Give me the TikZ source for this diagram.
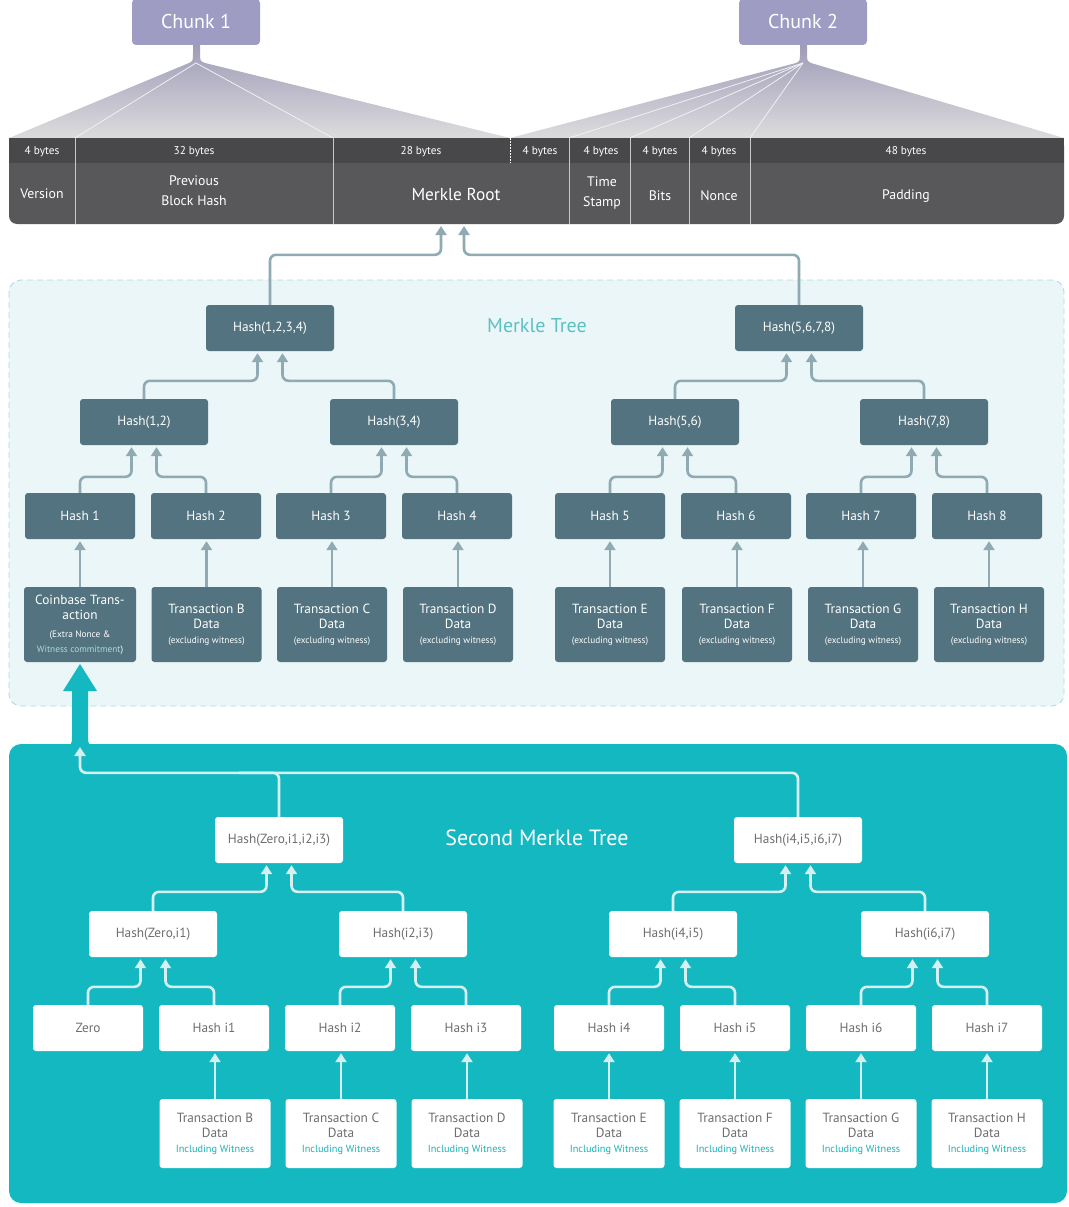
\documentclass[tikz,border=0pt]{standalone}
\usepackage{fontspec}
\setmainfont{PT Sans}
\usetikzlibrary{arrows.meta,calc}
\definecolor{chunkc}{HTML}{9F9CC4}
\definecolor{fantop}{HTML}{9E9BB6}
\definecolor{fanbot}{HTML}{DCDCDE}
\definecolor{hdrtop}{HTML}{48484A}
\definecolor{hdrlow}{HTML}{58585A}
\definecolor{hdrline}{HTML}{C8C8C8}
\definecolor{dnodec}{HTML}{52737F}
\definecolor{connc}{HTML}{8FAAB3}
\definecolor{mtbg}{HTML}{EAF6F7}
\definecolor{mtdash}{HTML}{A9DDE0}
\definecolor{mtlabel}{HTML}{5CC0C5}
\definecolor{tealc}{HTML}{13B8C1}
\definecolor{conn2c}{HTML}{D6F0F1}
\definecolor{wtext}{HTML}{6D6E70}
\definecolor{inclc}{HTML}{19B2B9}
\definecolor{witc}{HTML}{A8DCD6}
\newcommand{\smallex}{\fontsize{9.3}{11}\selectfont}
\newcommand{\smallin}{\fontsize{10.3}{12}\selectfont\color{inclc}}
\begin{document}
\begin{tikzpicture}[x=1pt,y=-1pt,
  dnode/.style={fill=dnodec, rounded corners=3pt, text=white, inner sep=0pt, align=center, font=\fontsize{13.3}{15}\selectfont},
  wnode/.style={fill=white, rounded corners=3pt, text=wtext, inner sep=0pt, align=center, font=\fontsize{13.3}{15}\selectfont},
  hsize/.style={minimum width=128pt, minimum height=46pt},
  lsize/.style={minimum width=110pt, minimum height=46pt},
  tsize/.style={minimum width=110pt, minimum height=75pt},
  t2size/.style={minimum width=111pt, minimum height=69pt},
  conn/.style={draw=connc, line width=2.6pt, rounded corners=6pt, -{Triangle[width=11pt,length=9pt]}, shorten >=2pt},
  conn2/.style={draw=conn2c, line width=2.6pt, rounded corners=6pt, -{Triangle[width=11pt,length=9pt]}, shorten >=2pt},
  hsmall/.style={text=white, font=\fontsize{11.3}{12}\selectfont, inner sep=0pt},
  hbig/.style={text=white, font=\fontsize{13.8}{20}\selectfont, inner sep=0pt, align=center},
  chunkbox/.style={fill=chunkc, rounded corners=4pt, text=white, font=\fontsize{20}{24}\selectfont, minimum width=128pt, minimum height=46pt, inner sep=0pt},
  fanline/.style={draw=white!85!fantop, line width=0.8pt}
]
\useasboundingbox (0,0) rectangle (1068,1207);

% ---------- fans ----------
\shade[top color=fantop, bottom color=fanbot]
  (9,138) -- (189,63) .. controls (193,61) .. (193,52) -- (193,44) -- (200,44) -- (200,52) .. controls (200,61) .. (205,63) -- (510,138) -- cycle;
\shade[top color=fantop, bottom color=fanbot]
  (510,138) -- (796,63) .. controls (800,61) .. (800,52) -- (800,44) -- (807,44) -- (807,52) .. controls (807,61) .. (811,63) -- (1064,138) -- cycle;
\draw[fanline] (196,63) -- (75,138);
\draw[fanline] (196,63) -- (333,138);
\draw[fanline] (803,63) -- (569,138);
\draw[fanline] (803,63) -- (630,138);
\draw[fanline] (803,63) -- (689,138);
\draw[fanline] (803,63) -- (750,138);

\node[chunkbox] (chunk1) at (196,22) {Chunk 1};
\node[chunkbox] (chunk2) at (803,22) {Chunk 2};

% ---------- header bar ----------
\fill[hdrlow, rounded corners=8pt] (9,138) rectangle (1064,224);
\fill[hdrtop] (9,138) rectangle (1064,163);
\foreach \xx in {75,333,569,630,689,750}{
  \draw[hdrline, line width=0.8pt] (\xx,138) -- (\xx,224);
}
\draw[white, line width=0.8pt, dash pattern=on 1.5pt off 1.5pt] (510,138) -- (510,163);

\node[hsmall] (b1) at (42,152) {4 bytes};
\node[hsmall] (b2) at (194,152) {32 bytes};
\node[hsmall] (b3) at (421,152) {28 bytes};
\node[hsmall] (b4) at (540,152) {4 bytes};
\node[hsmall] (b5) at (601,152) {4 bytes};
\node[hsmall] (b6) at (660,152) {4 bytes};
\node[hsmall] (b7) at (719,152) {4 bytes};
\node[hsmall] (b8) at (906,152) {48 bytes};

\node[hbig] (fver) at (42,194) {Version};
\node[hbig] (fprev) at (194,191) {Previous\\Block Hash};
\node[hbig, font=\fontsize{17.3}{20}\selectfont] (mr) at (456,194) {Merkle Root};
\node[hbig] (ftime) at (602,193) {Time\\Stamp};
\node[hbig] (fbits) at (660,196) {Bits};
\node[hbig] (fnonce) at (719,196) {Nonce};
\node[hbig] (fpad) at (906,196) {Padding};
\coordinate (mrb) at (452.5,224);

% ---------- Merkle tree panel ----------
\filldraw[fill=mtbg, draw=mtdash, line width=0.9pt, dash pattern=on 6pt off 4pt, rounded corners=12pt] (9,280) rectangle (1064,706);
\node[text=mtlabel, font=\fontsize{20}{24}\selectfont, inner sep=0pt] (mtl) at (537,326) {Merkle Tree};

\node[dnode,hsize] (h1234) at (270,328) {Hash(1,2,3,4)};
\node[dnode,hsize] (h5678) at (799,328) {Hash(5,6,7,8)};
\node[dnode,hsize] (h12) at (144,422) {Hash(1,2)};
\node[dnode,hsize] (h34) at (394,422) {Hash(3,4)};
\node[dnode,hsize] (h56) at (675,422) {Hash(5,6)};
\node[dnode,hsize] (h78) at (924,422) {Hash(7,8)};
\node[dnode,lsize] (h1) at (80,516) {Hash 1};
\node[dnode,lsize] (h2) at (206,516) {Hash 2};
\node[dnode,lsize] (h3) at (331,516) {Hash 3};
\node[dnode,lsize] (h4) at (457,516) {Hash 4};
\node[dnode,lsize] (h5) at (610,516) {Hash 5};
\node[dnode,lsize] (h6) at (736,516) {Hash 6};
\node[dnode,lsize] (h7) at (861,516) {Hash 7};
\node[dnode,lsize] (h8) at (987,516) {Hash 8};

\node[dnode,tsize,minimum width=112pt] (tcb) at (80,624.5) {Coinbase Trans-\\action\\[3pt]\smallex (Extra Nonce \&\\\smallex\textcolor{witc}{Witness commitment})};
\node[dnode,tsize] (ttb) at (206.5,624.5) {Transaction B\\Data\\\smallex (excluding witness)};
\node[dnode,tsize] (ttc) at (332,624.5) {Transaction C\\Data\\\smallex (excluding witness)};
\node[dnode,tsize] (ttd) at (458,624.5) {Transaction D\\Data\\\smallex (excluding witness)};
\node[dnode,tsize] (tte) at (610,624.5) {Transaction E\\Data\\\smallex (excluding witness)};
\node[dnode,tsize] (ttf) at (737,624.5) {Transaction F\\Data\\\smallex (excluding witness)};
\node[dnode,tsize] (ttg) at (863,624.5) {Transaction G\\Data\\\smallex (excluding witness)};
\node[dnode,tsize] (tth) at (989,624.5) {Transaction H\\Data\\\smallex (excluding witness)};

% connectors tree 1
\draw[conn] (h1234.north) -- ++(0,-50) -| ([xshift=-11.5pt]mrb);
\draw[conn] (h5678.north) -- ++(0,-50) -| ([xshift=11.5pt]mrb);
\foreach \c/\p/\s in {h12/h1234/-12.5, h34/h1234/12.5, h56/h5678/-12.5, h78/h5678/12.5}{
  \draw[conn] (\c.north) -- ++(0,-18) -| ([xshift=\s pt]\p.south);
}
\foreach \c/\p/\s in {h1/h12/-12.5, h2/h12/12.5, h3/h34/-12.5, h4/h34/12.5, h5/h56/-12.5, h6/h56/12.5, h7/h78/-12.5, h8/h78/12.5}{
  \draw[conn] (\c.north) -- ++(0,-16) -| ([xshift=\s pt]\p.south);
}
\foreach \c/\p in {tcb/h1, ttb/h2, ttc/h3, ttd/h4, tte/h5, ttf/h6, ttg/h7, tth/h8}{
  \draw[conn] (\c.north) -- (\c.north |- \p.south);
}

% ---------- Second Merkle tree panel ----------
\fill[tealc, rounded corners=12pt] (9,744) rectangle (1067,1203);
\fill[tealc] (72,691) -- (63,691) -- (80,664) -- (97,691) -- (88,691) -- (88,736) .. controls (88,745) .. (97,745) -- (63,745) .. controls (72,745) .. (72,736) -- cycle;
\coordinate (sb) at (80,745);
\node[text=white, font=\fontsize{22}{26}\selectfont, inner sep=0pt] (sml) at (537,838) {Second Merkle Tree};

\node[wnode,hsize] (hz123) at (279,840) {Hash(Zero,i1,i2,i3)};
\node[wnode,hsize] (hi4567) at (798,840) {Hash(i4,i5,i6,i7)};
\node[wnode,hsize] (hz1) at (153,934) {Hash(Zero,i1)};
\node[wnode,hsize] (hi23) at (403,934) {Hash(i2,i3)};
\node[wnode,hsize] (hi45) at (673,934) {Hash(i4,i5)};
\node[wnode,hsize] (hi67) at (925,934) {Hash(i6,i7)};
\node[wnode,lsize] (zero) at (88,1028) {Zero};
\node[wnode,lsize] (hi1) at (214,1028) {Hash i1};
\node[wnode,lsize] (hi2) at (340,1028) {Hash i2};
\node[wnode,lsize] (hi3) at (466,1028) {Hash i3};
\node[wnode,lsize] (hi4) at (609,1028) {Hash i4};
\node[wnode,lsize] (hi5) at (735,1028) {Hash i5};
\node[wnode,lsize] (hi6) at (861,1028) {Hash i6};
\node[wnode,lsize] (hi7) at (987,1028) {Hash i7};

\node[wnode,t2size] (sb2) at (215,1133.5) {Transaction B\\Data\\\smallin Including Witness};
\node[wnode,t2size] (sc2) at (341,1133.5) {Transaction C\\Data\\\smallin Including Witness};
\node[wnode,t2size] (sd2) at (467,1133.5) {Transaction D\\Data\\\smallin Including Witness};
\node[wnode,t2size] (se2) at (609,1133.5) {Transaction E\\Data\\\smallin Including Witness};
\node[wnode,t2size] (sf2) at (735,1133.5) {Transaction F\\Data\\\smallin Including Witness};
\node[wnode,t2size] (sg2) at (861,1133.5) {Transaction G\\Data\\\smallin Including Witness};
\node[wnode,t2size] (sh2) at (987,1133.5) {Transaction H\\Data\\\smallin Including Witness};

% connectors tree 2
\draw[conn2] (hi4567.north) -- ++(0,-44) -| (sb);
\draw[draw=conn2c, line width=2.6pt, rounded corners=6pt] (hz123.north) -- ++(0,-44) -- ++(-40,0);
\foreach \c/\p/\s in {hz1/hz123/-12.5, hi23/hz123/12.5, hi45/hi4567/-12.5, hi67/hi4567/12.5}{
  \draw[conn2] (\c.north) -- ++(0,-19) -| ([xshift=\s pt]\p.south);
}
\foreach \c/\p/\s in {zero/hz1/-12.5, hi1/hz1/12.5, hi2/hi23/-12.5, hi3/hi23/12.5, hi4/hi45/-12.5, hi5/hi45/12.5, hi6/hi67/-12.5, hi7/hi67/12.5}{
  \draw[conn2] (\c.north) -- ++(0,-18) -| ([xshift=\s pt]\p.south);
}
\foreach \c/\p in {sb2/hi1, sc2/hi2, sd2/hi3, se2/hi4, sf2/hi5, sg2/hi6, sh2/hi7}{
  \draw[conn2] (\c.north) -- (\c.north |- \p.south);
}
\end{tikzpicture}
\end{document}
